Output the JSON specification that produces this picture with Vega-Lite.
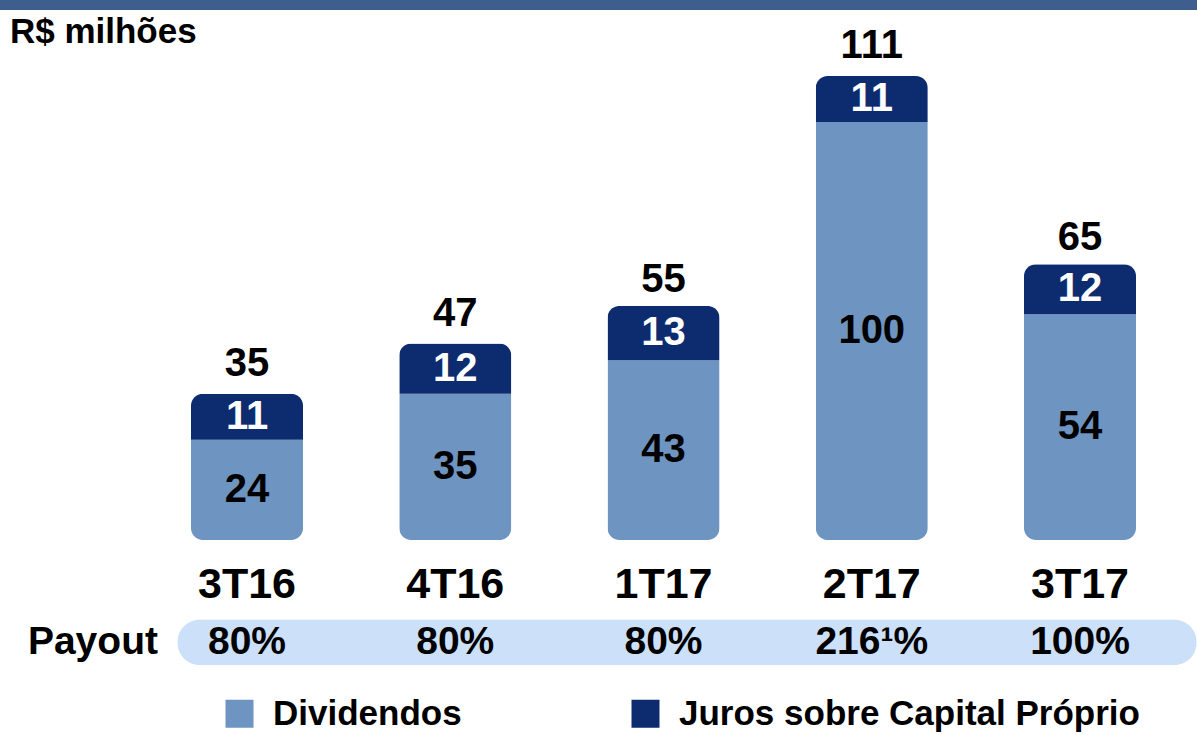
{
  "$schema": "https://vega.github.io/schema/vega-lite/v6.json",
  "width": 1197,
  "height": 735,
  "autosize": {"type": "fit", "contains": "padding"},
  "padding": 0,
  "background": "white",
  "config": {
    "view": {"stroke": null},
    "text": {"font": "Liberation Sans", "fontWeight": "bold"},
    "axis": {"disable": true}
  },
  "datasets": {
    "valores": [
      {"trimestre": "3T16", "tipo": "Dividendos", "ordem": 1, "valor": 24},
      {"trimestre": "3T16", "tipo": "Juros sobre Capital Próprio", "ordem": 2, "valor": 11},
      {"trimestre": "4T16", "tipo": "Dividendos", "ordem": 1, "valor": 35},
      {"trimestre": "4T16", "tipo": "Juros sobre Capital Próprio", "ordem": 2, "valor": 12},
      {"trimestre": "1T17", "tipo": "Dividendos", "ordem": 1, "valor": 43},
      {"trimestre": "1T17", "tipo": "Juros sobre Capital Próprio", "ordem": 2, "valor": 13},
      {"trimestre": "2T17", "tipo": "Dividendos", "ordem": 1, "valor": 100},
      {"trimestre": "2T17", "tipo": "Juros sobre Capital Próprio", "ordem": 2, "valor": 11},
      {"trimestre": "3T17", "tipo": "Dividendos", "ordem": 1, "valor": 54},
      {"trimestre": "3T17", "tipo": "Juros sobre Capital Próprio", "ordem": 2, "valor": 12}
    ],
    "trimestres": [
      {"trimestre": "3T16", "total": 35, "payout": "80%"},
      {"trimestre": "4T16", "total": 47, "payout": "80%"},
      {"trimestre": "1T17", "total": 55, "payout": "80%"},
      {"trimestre": "2T17", "total": 111, "payout": "216¹%"},
      {"trimestre": "3T17", "total": 65, "payout": "100%"}
    ],
    "rotulos": [
      {"rotulo": "Payout"}
    ],
    "titulo": [
      {"rotulo": "R$ milhões"}
    ]
  },
  "layer": [
    {
      "data": {"values": [{}]},
      "mark": {"type": "rect", "color": "#3e5f8e"},
      "encoding": {
        "y": {"datum": 129.2, "type": "quantitative", "scale": {"domain": [-46.65, 129.2], "nice": false, "zero": false}},
        "y2": {"datum": 126.8}
      }
    },
    {
      "data": {"name": "rotulos"},
      "mark": {"type": "rect", "color": "#cce0fa", "cornerRadius": 22},
      "encoding": {
        "x": {"datum": "3T16", "type": "nominal", "bandPosition": -0.12, "scale": {"domain": ["3T16", "4T16", "1T17", "2T17", "3T17"], "paddingInner": 0.462, "paddingOuter": 0.605, "align": 0.758}},
        "x2": {"datum": "3T17", "bandPosition": 1.54},
        "y": {"datum": -19.1, "type": "quantitative", "scale": {"domain": [-46.65, 129.2], "nice": false, "zero": false}},
        "y2": {"datum": -29.9}
      }
    },
    {
      "data": {"name": "valores"},
      "mark": {"type": "bar", "cornerRadius": 12},
      "encoding": {
        "x": {"field": "trimestre", "type": "nominal", "scale": {"domain": ["3T16", "4T16", "1T17", "2T17", "3T17"], "paddingInner": 0.462, "paddingOuter": 0.605, "align": 0.758}},
        "y": {"field": "valor", "type": "quantitative", "stack": "zero", "scale": {"domain": [-46.65, 129.2], "nice": false, "zero": false}},
        "color": {
          "field": "tipo",
          "type": "nominal",
          "scale": {"domain": ["Dividendos", "Juros sobre Capital Próprio"], "range": ["#6e94c2", "#0d2b6f"]},
          "legend": {
            "orient": "none",
            "legendX": 222,
            "legendY": 696,
            "direction": "horizontal",
            "title": null,
            "symbolType": "square",
            "symbolSize": 784,
            "symbolStrokeWidth": 0,
            "labelFontSize": 35,
            "labelFont": "Liberation Sans",
            "labelFontWeight": "bold",
            "labelColor": "black",
            "labelLimit": 700,
            "columnPadding": 166,
            "labelOffset": 16
          }
        },
        "order": {"field": "ordem", "type": "quantitative"}
      }
    },
    {
      "data": {"name": "valores"},
      "transform": [
        {"stack": "valor", "groupby": ["trimestre"], "sort": [{"field": "ordem", "order": "ascending"}], "as": ["v0", "v1"]},
        {"fold": ["v0", "v1"], "as": ["extremo", "posicao"]},
        {"aggregate": [{"op": "mean", "field": "posicao", "as": "meio"}], "groupby": ["trimestre", "tipo", "valor"]}
      ],
      "mark": {"type": "text", "fontSize": 40, "baseline": "middle", "align": "center"},
      "encoding": {
        "x": {"field": "trimestre", "type": "nominal"},
        "y": {"field": "meio", "type": "quantitative"},
        "text": {"field": "valor", "type": "quantitative"},
        "color": {"condition": {"test": "datum.tipo === 'Dividendos'", "value": "black"}, "value": "white"}
      }
    },
    {
      "data": {"name": "trimestres"},
      "mark": {"type": "text", "fontSize": 40, "baseline": "alphabetic", "align": "center", "dy": -18, "color": "black"},
      "encoding": {
        "x": {"field": "trimestre", "type": "nominal"},
        "y": {"field": "total", "type": "quantitative"},
        "text": {"field": "total", "type": "quantitative"}
      }
    },
    {
      "data": {"name": "trimestres"},
      "mark": {"type": "text", "fontSize": 43, "baseline": "middle", "align": "center", "color": "black"},
      "encoding": {
        "x": {"field": "trimestre", "type": "nominal"},
        "y": {"datum": -10.75, "type": "quantitative"},
        "text": {"field": "trimestre", "type": "nominal"}
      }
    },
    {
      "data": {"name": "trimestres"},
      "mark": {"type": "text", "fontSize": 39, "baseline": "middle", "align": "center", "color": "black"},
      "encoding": {
        "x": {"field": "trimestre", "type": "nominal"},
        "y": {"datum": -24.4, "type": "quantitative"},
        "text": {"field": "payout", "type": "nominal"}
      }
    },
    {
      "data": {"name": "rotulos"},
      "mark": {"type": "text", "fontSize": 39, "baseline": "middle", "align": "right", "color": "black"},
      "encoding": {
        "x": {"datum": "3T16", "type": "nominal", "bandPosition": -0.295},
        "y": {"datum": -24.4, "type": "quantitative"},
        "text": {"field": "rotulo", "type": "nominal"}
      }
    },
    {
      "data": {"name": "titulo"},
      "mark": {"type": "text", "fontSize": 35, "baseline": "middle", "align": "left", "color": "black"},
      "encoding": {
        "x": {"datum": "3T16", "type": "nominal", "bandPosition": -1.616},
        "y": {"datum": 121.5, "type": "quantitative"},
        "text": {"field": "rotulo", "type": "nominal"}
      }
    }
  ]
}
